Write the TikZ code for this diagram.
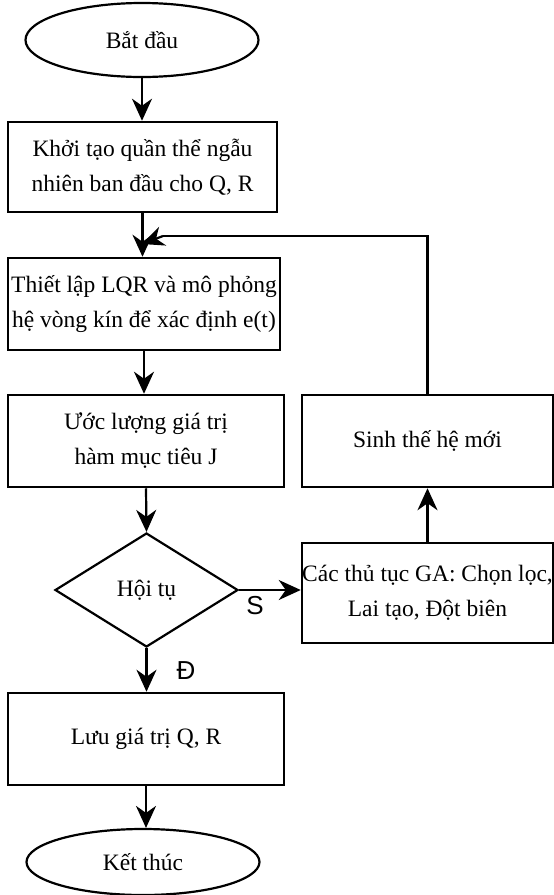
\documentclass[tikz,border=0pt]{standalone}
\usepackage{fontspec}
\setmainfont{Liberation Serif}
\newfontfamily\labelfont{Liberation Sans}
\usetikzlibrary{shapes.geometric,arrows.meta}
\begin{document}
\begin{tikzpicture}[x=1pt,y=-1pt,
  txt/.style={font=\fontsize{23.5}{35}\selectfont, align=center, inner sep=0pt},
  stepbox/.style={txt, draw, line width=2.5pt},
  term/.style={txt, draw, ellipse, line width=2.2pt},
  decision/.style={txt, draw, diamond, line width=2.2pt},
  flow/.style={line width=2.2pt, -{Stealth[length=22pt,width=20pt,inset=7pt]}},
  plain/.style={line width=2.2pt},
  branch/.style={font=\labelfont\fontsize{26}{30}\selectfont, inner sep=0pt}]
\useasboundingbox (0,0) rectangle (554,895);

% main column
\node[term, minimum width=233, minimum height=74] (start) at (142,40) {Bắt đầu};
\node[stepbox, minimum width=269, minimum height=90] (init) at (142.5,167)
  {Khởi tạo quần thể ngẫu\\nhiên ban đầu cho Q, R};
\node[stepbox, minimum width=272, minimum height=92] (sim) at (144,304)
  {Thiết lập LQR và mô phỏng\\hệ vòng kín để xác định e(t)};
\node[stepbox, minimum width=276, minimum height=92] (cost) at (146,441)
  {Ước lượng giá trị\\hàm mục tiêu J};
\node[decision, minimum width=183, minimum height=114] (conv) at (146.5,590) {Hội tụ};
\node[stepbox, minimum width=276, minimum height=92] (save) at (146,739)
  {Lưu giá trị Q, R};
\node[term, minimum width=233, minimum height=66] (stop) at (143,862) {Kết thúc};

% GA branch
\node[stepbox, minimum width=251, minimum height=100] (ga) at (427.5,593)
  {Các thủ tục GA: Chọn lọc,\\Lai tạo, Đột biên};
\node[stepbox, minimum width=251, minimum height=92] (gen) at (427.5,441)
  {Sinh thế hệ mới};

% connectors
\draw[flow] (start.south) -- (start.south |- init.north);
\draw[flow] (init.south) -- (init.south |- sim.north);
\draw[flow] (sim.south) -- (sim.south |- cost.north);
\draw[flow] (cost.south) -- (conv.north);
\draw[flow] (conv.south) -- (conv.south |- save.north);
\draw[flow] (save.south) -- (save.south |- stop.north);
\draw[flow] (conv.east) -- (conv.east -| ga.west);
\draw[flow] (ga.north) -- (gen.south);

% feedback loop back into the simulation step
\coordinate (fbend) at (163,236);
\coordinate (fbtip) at (142,244);
\draw[plain] (gen.north) |- (fbend);
\draw[flow] (fbend) -- (fbtip);

% branch labels
\node[branch] (lblS) at (255,606) {S};
\node[branch] (lblD) at (186,671) {Đ};
\end{tikzpicture}
\end{document}
